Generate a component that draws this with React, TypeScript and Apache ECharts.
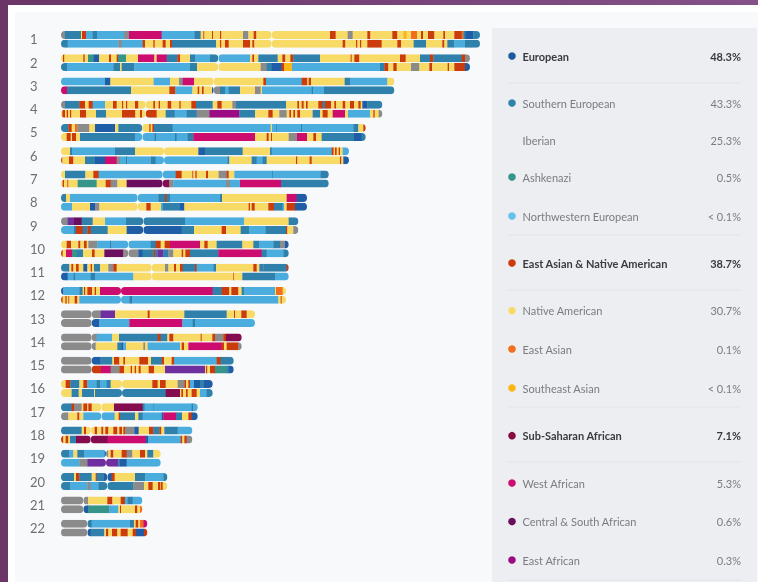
import React, { useEffect, useRef } from "react";
import * as echarts from "echarts";

const FONT = "Lato, 'Open Sans', sans-serif";

const palette: Record<string, string> = {
  E: "#1f5ea6", S: "#2f80aa", N: "#4aaddd", Y: "#f8da66", R: "#cb3b0b", O: "#ef6f1a",
  U: "#fbb616", W: "#cd0c6f", D: "#860c50", C: "#6b0e60", A: "#9a0b84", K: "#369489",
  G: "#8b8b8b", P: "#6f2f9f",
};

// Painted segments: colour code + end position, "|" marks the centromere.
const chr1a = "G195 S243 Y246 R258 N278 S291 N372 G387 W485 N583 S602 Y610 R613 Y636 R639 Y660 R664 Y729 G745 Y761 R769 Y815 | Y990 R1007 Y1043 G1058 Y1102 R1111 Y1177 R1192 Y1210 U1220 Y1233 O1251 Y1263 R1269 Y1284 R1303 Y1330 R1335 Y1363 R1385 O1390 S1397 E1420 S1440";
const chr1b = "S203 N355 G365 N428 R435 Y460 R464 Y488 R497 Y510 R516 S648 Y660 R664 Y675 R686 Y729 R750 Y757 R763 Y815 | Y1028 R1036 Y1068 R1072 Y1080 R1084 Y1102 R1145 Y1192 R1203 Y1241 S1278 Y1327 R1333 Y1342 S1363 N1395 S1412 S1440";
const chr2a = "Y189 R193 Y250 R254 Y264 K280 E297 Y327 R333 Y350 R354 K378 Y414 W463 Y470 W500 S532 R540 Y570 S585 N630 S655 | N750 Y757 R762 Y775 S833 Y847 R856 Y871 R880 S960 Y1052 R1055 Y1063 R1078 Y1200 R1217 Y1260 S1290 R1300 S1385 R1395 G1410";
const chr2b = "S201 N340 S360 Y365 S403 N570 S591 Y655 | Y782 G800 S815 E845 R852 U876 N1140 S1153 R1165 Y1180 R1190 Y1233 G1258 Y1288 R1296 Y1343 R1347 Y1363 R1395 E1410";
const chr3a = "N315 E331 Y461 N510 Y537 G548 W582 Y641 | Y790 R798 N905 R922 Y926 R933 Y1034 S1050 N1162 Y1183";
const chr3b = "W201 S393 Y508 R526 N577 Y593 R598 Y606 R611 Y636 E641 | G660 S675 N686 S720 Y765 G782 Y786 N935 S940 N972 S1183";
const chr4a = "G195 S238 R255 Y266 R278 N315 Y339 R350 Y366 R370 Y378 R382 Y405 R415 Y437 | Y460 R465 Y476 R480 Y503 R514 Y538 R542 Y574 R588 S638 Y652 R665 Y697 G708 S858 Y892 R897 Y905 R911 Y918 R923 Y955 R968 S975 R993 Y1003 R1008 Y1028 R1036 Y1050 R1062 Y1075 R1082 Y1087 E1102 S1147";
const chr4b = "Y187 R195 Y200 R204 Y210 R214 Y240 R258 Y288 S318 Y366 R406 Y420 R426 Y437 | R470 Y497 S524 N560 S590 G628 A718 S765 Y805 R818 Y838 G860 Y868 R873 Y880 R885 Y892 R900 Y938 S960 Y968 R983 Y998 W1035 Y1044 N1110 Y1120 R1124 Y1136 G1147";
const chr5a = "S205 R215 Y225 O232 G268 Y285 E345 Y355 S427 | Y448 R452 Y457 R462 S518 N812 Y816 N828 S830 N903 S906 N1060 S1075 Y1090 R1097";
const chr5b = "Y200 R212 Y216 R228 Y240 S405 N427 | N463 S468 N525 S530 N562 S580 W765 Y800 R806 Y813 R816 Y866 G891 W921 Y940 R948 Y965 S1062 E1085 S1097";
const chr6a = "Y210 S216 N345 S405 Y492 | Y595 E615 S728 Y810 S815 N995 R1001 Y1005 R1010 Y1016 R1020 Y1028 N1047";
const chr6b = "R187 Y207 R220 Y255 S285 E315 W350 G360 N378 S382 N453 S467 N492 | N682 S688 Y755 S770 N788 S800 Y888 R892 Y929 R935 Y1020 R1024 Y1030 E1047";
const chr7a = "Y195 S256 Y280 R296 N488 | N527 R545 Y577 R580 Y586 R590 Y618 R624 Y656 G680 R686 Y703 N816 S818 N962 S982 E986";
const chr7b = "Y188 R192 Y202 R205 Y233 K290 Y317 R332 G352 Y380 C488 | D508 G520 N678 G690 N720 W843 S986";
const chr8a = "S198 Y210 N413 | N475 S495 R500 S510 N660 S666 Y860 W890 E921";
const chr8b = "N216 Y270 E285 G298 Y413 | Y439 R452 Y483 N488 S540 E553 Y746 R750 Y755 R764 Y805 R822 S848 N852 Y860 R885 E921";
const chr9a = "G203 P220 C245 S278 Y315 N378 S430 | S555 N732 Y866 S895";
const chr9b = "N222 S228 R248 S262 R272 S323 Y380 E430 | E545 S582 Y665 R678 Y722 S747 N797 S858 R862 Y880 G895";
const chr10a = "Y200 R213 Y235 R241 Y252 R260 Y265 G292 N330 S333 N385 | N452 S467 R482 Y494 R510 W600 Y613 R623 Y650 S727 Y760 S777 N820 S840 G855 E866";
const chr10b = "R188 Y198 W216 K230 S249 Y276 R284 Y313 C370 G385 | G415 E428 S460 R465 S472 P490 S505 G520 Y545 R550 Y556 R570 S655 W785 S800 N850 S866";
const chr11a = "S208 Y214 R220 Y228 R236 Y250 E262 Y272 R276 Y282 S300 Y325 G340 R350 Y455 | Y495 G505 Y522 R528 Y540 R548 S585 R590 N640 S648 Y760 R770 Y778 S790 S860 R866";
const chr11b = "E203 N220 S225 N272 S285 N400 Y455 | Y700 R702 Y727 S825 N866";
const chr12a = "E190 N238 S248 Y252 R256 Y262 R276 Y284 R288 Y300 W363 | W638 S665 R688 Y694 R715 Y725 S733 N825 Y828 O848 Y858";
const chr12b = "R188 Y196 R200 Y205 R208 Y224 R232 Y238 N363 | N388 S396 N835 Y842 R845 Y858";
const chr13a = "G275 | G302 P345 Y443 R449 Y553 S680 Y702 R705 Y724 R740 Y765";
const chr13b = "G275 | E298 N388 W547 N578 S585 N765";
const chr14a = "G275 | G290 N336 Y357 S473 R482 S502 Y508 R520 Y602 R605 Y637 R645 G670 R678 D725";
const chr14b = "G275 | G287 Y352 S365 E370 N378 Y430 G435 Y443 N540 Y545 R552 Y565 W665 R672 Y680 R715 G725";
const chr15a = "G275 | E300 S337 Y342 R358 Y370 R375 Y418 R444 Y453 S485 R492 Y515 R522 N650 R662 S701";
const chr15b = "G275 | R302 W332 G358 R372 Y392 R396 Y404 R408 Y416 R422 Y446 R462 Y495 P615 Y618 R622 Y630 R645 K680 S685 E701";
const chr16a = "Y197 R211 S238 Y250 R262 N290 S300 N320 S332 Y366 | Y457 R473 Y480 R497 Y533 G553 R558 Y565 R570 N582 E600 S612 E638";
const chr16b = "Y215 S236 Y246 S282 Y285 S366 | S497 D540 Y544 R549 Y558 R563 Y575 R590 Y600 N620 S638";
const chr17a = "S215 R222 G245 Y250 R262 Y265 R275 Y304 | Y342 D428 S434 N460 S462 N575 S580 N593";
const chr17b = "G205 Y232 R238 Y250 N304 | N344 Y356 R360 S405 Y415 S428 N485 E490 W528 S546 Y565 R575 E593";
const chr18a = "S245 Y252 R258 Y272 | Y284 R291 Y304 R310 Y316 R325 Y340 R352 Y358 R366 Y370 R376 G403 E416 Y447 R460 S478 R484 Y493 S533 N577";
const chr18b = "R190 Y197 R205 Y210 S228 D272 | D323 W437 E445 N542 R547 Y553 R560 G577";
const chr19a = "S207 N220 Y232 S252 N314 E318 | G325 Y332 R340 Y365 R380 G397 Y420 R435 Y442 S460 Y482";
const chr19b = "N238 G262 P318 | P355 S360 E380 N482";
const chr20a = "S222 Y228 R238 S275 Y287 R290 S310 E322 | E335 R344 Y405 S436 N490 S502";
const chr20b = "S210 N262 G272 N295 S322 | S400 G432 Y445 R458 Y474 R480 Y482 R488 Y502";
const chr21a = "G250 | G264 Y322 R337 Y362 R375 N383 S398 N427";
const chr21b = "G250 | E264 K328 N355 Y360 R363 Y405 R412 Y420 O427";
const chr22a = "G262 | S275 N390 S402 Y407 R415 Y420 O430 W442";
const chr22b = "G262 | E272 S313 Y318 R325 Y336 R352 Y362 R383 Y398 R408 E432 R442";

const strands = [
  [chr1a, chr1b], [chr2a, chr2b], [chr3a, chr3b], [chr4a, chr4b], [chr5a, chr5b], [chr6a, chr6b],
  [chr7a, chr7b], [chr8a, chr8b], [chr9a, chr9b], [chr10a, chr10b], [chr11a, chr11b], [chr12a, chr12b],
  [chr13a, chr13b], [chr14a, chr14b], [chr15a, chr15b], [chr16a, chr16b], [chr17a, chr17b], [chr18a, chr18b],
  [chr19a, chr19b], [chr20a, chr20b], [chr21a, chr21b], [chr22a, chr22b],
];

// Legend table
const legendNames = ["European", "Southern European", "Iberian", "Ashkenazi", "Northwestern European", "East Asian & Native American", "Native American", "East Asian", "Southeast Asian", "Sub-Saharan African", "West African", "Central & South African", "East African"];
const legendValues = ["48.3%", "43.3%", "25.3%", "0.5%", "< 0.1%", "38.7%", "30.7%", "0.1%", "< 0.1%", "7.1%", "5.3%", "0.6%", "0.3%"];
const legendColors = ["#1c5a9e", "#2f80aa", "", "#369489", "#64c0ec", "#cb3b0b", "#f8da66", "#ef6f1a", "#fbb616", "#860c3f", "#cd0c6f", "#6b0e60", "#9a0b84"];
const legendBold = [true, false, false, false, false, true, false, false, false, true, false, false, false];
const legendY = [56, 103, 140, 177, 216, 263, 310.7, 349, 388, 435.7, 483, 521.5, 560];
const ruleY = [83, 235, 290, 407, 462, 580];

const STRAND_OFFSET = 0.19;
const STRAND_HEIGHT = 0.344;
const X_MIN = 183;

type Arm = { start: number; end: number; row: number; cuts: { c: string; from: number; to: number }[] };
const arms: Arm[] = [];
strands.forEach((pair, i) => {
  pair.forEach((text, s) => {
    const row = i + (s === 0 ? -STRAND_OFFSET : STRAND_OFFSET);
    let from = X_MIN;
    text.split(" | ").forEach((part) => {
      const start = from;
      const cuts = part.split(" ").map((tok) => {
        const to = Number(tok.slice(1));
        const cut = { c: tok[0], from, to };
        from = to;
        return cut;
      });
      arms.push({ start, end: from, row, cuts });
    });
  });
});

const armData = arms.map((a) => [a.start, a.end, a.row]);

function renderArm(params: any, api: any) {
  const arm = arms[params.dataIndex];
  const h = api.size([0, STRAND_HEIGHT])[1];
  const [x0, yc] = api.coord([arm.start, arm.row]);
  const [x1] = api.coord([arm.end, arm.row]);
  const y = yc - h / 2;
  const children = arm.cuts.map((cut) => {
    const a = api.coord([cut.from, arm.row])[0];
    const b = api.coord([cut.to, arm.row])[0];
    return {
      type: "rect",
      shape: { x: a, y, width: b - a + 0.3, height: h },
      style: { fill: palette[cut.c] },
    };
  });
  return {
    type: "group",
    clipPath: { type: "rect", shape: { x: x0, y, width: x1 - x0, height: h, r: h / 2 } },
    children,
  };
}

export default function App() {
  const ref = useRef<HTMLDivElement>(null);
  useEffect(() => {
    const chart = echarts.init(ref.current!, undefined, { renderer: "svg" });
    const graphic: any[] = [
      { type: "rect", z: -10, shape: { x: 0, y: 0, width: 758, height: 582 }, style: { fill: new echarts.graphic.LinearGradient(0, 0, 1, 0, [{ offset: 0, color: "#6b3568" }, { offset: 1, color: "#845288" }]) } },
      { type: "rect", z: -9, shape: { x: 8, y: 5, width: 750, height: 577 }, style: { fill: "#ffffff" } },
      { type: "rect", z: -8, shape: { x: 15, y: 12, width: 743, height: 570 }, style: { fill: "#f7f9fb" } },
      { type: "rect", z: -7, shape: { x: 492, y: 28, width: 265, height: 554, r: 2 }, style: { fill: "#edeef1" } },
    ];
    ruleY.forEach((y) => {
      graphic.push({ type: "line", z: -6, shape: { x1: 508, y1: y, x2: 741, y2: y }, style: { stroke: "#e3e4e7", lineWidth: 1 } });
    });
    legendNames.forEach((name, i) => {
      const y = legendY[i];
      const bold = legendBold[i];
      if (legendColors[i]) {
        graphic.push({ type: "circle", shape: { cx: 512, cy: y, r: 3.8 }, style: { fill: legendColors[i] } });
      }
      graphic.push({ type: "text", x: 522.5, y, style: { text: name, fill: bold ? "#3a3b3f" : "#7b7c80", font: `${bold ? 700 : 400} 11px ${FONT}`, verticalAlign: "middle", align: "left" } });
      graphic.push({ type: "text", x: 741, y, style: { text: legendValues[i], fill: bold ? "#3a3b3f" : "#7b7c80", font: `${bold ? 700 : 400} 11px ${FONT}`, verticalAlign: "middle", align: "right" } });
    });

    chart.setOption({
      animation: false,
      graphic,
      grid: { left: 61, top: 16.13, width: 420, height: 558.5 },
      xAxis: { type: "value", min: X_MIN, max: 1443, show: false },
      yAxis: {
        type: "value",
        inverse: true,
        min: -1,
        max: 23,
        interval: 1,
        axisLine: { show: false },
        axisTick: { show: false },
        splitLine: { show: false },
        axisLabel: {
          margin: 31,
          align: "left",
          fontFamily: FONT,
          fontSize: 13,
          color: "#6e6f73",
          formatter: (v: number) => (v >= 0 && v <= 21 ? String(v + 1) : ""),
        },
      },
      series: [
        {
          type: "custom",
          coordinateSystem: "cartesian2d",
          encode: { x: [0, 1], y: 2 },
          data: armData,
          renderItem: renderArm,
          silent: true,
        },
      ],
    });
    return () => chart.dispose();
  }, []);
  return <div ref={ref} style={{ position: "fixed", left: 0, top: 0, width: 758, height: 582 }} />;
}
